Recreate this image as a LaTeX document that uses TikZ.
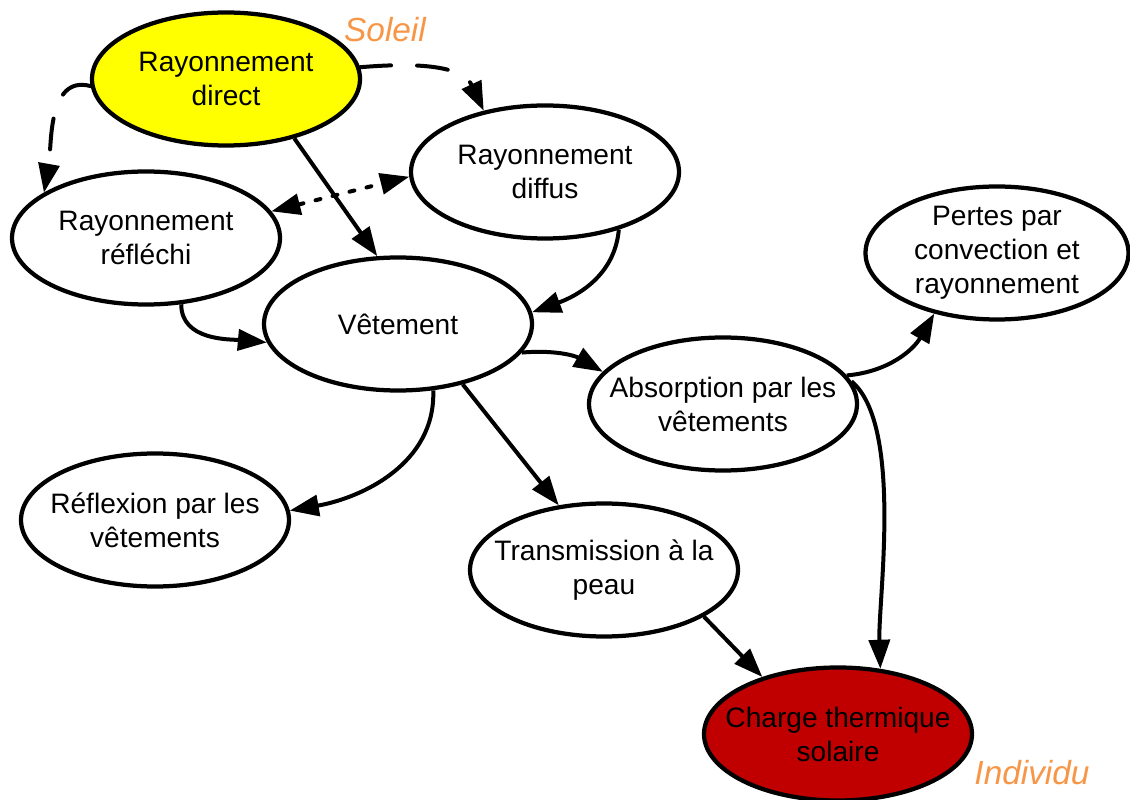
\documentclass[tikz,border=0pt]{standalone}
\usepackage{fontspec}
\setmainfont{Liberation Sans}
\usepackage{xcolor}
\usetikzlibrary{
    shapes.geometric,
    arrows.meta
}
\definecolor{sunyellow}{RGB}{255,255,0}
\definecolor{heatred}{RGB}{192,0,0}
\definecolor{tagorange}{RGB}{247,150,70}
\tikzset{
  bubble/.style = {
      draw,
      ellipse,
      line width=0.085cm,
      minimum width=5.36cm,
      minimum height=2.66cm,
      inner sep=0pt,
      fill=white
  },
  sun/.style = {
      bubble,
      fill=sunyellow
  },
  heat/.style = {
      bubble,
      fill=heatred
  },
  txt/.style = {
      label={[font=\fontsize{16}{19.3}\selectfont, align=center]center:#1}
  },
  flow/.style = {
      line width=0.08cm,
      -{Triangle[length=0.58cm, width=0.42cm]}
  },
  longdash/.style = {
      flow,
      line cap=round,
      dash pattern=on 0.62cm off 0.52cm
  },
  shortdash/.style = {
      flow,
      {Triangle[length=0.58cm, width=0.42cm]}-{Triangle[length=0.58cm, width=0.42cm]},
      line cap=round,
      dash pattern=on 0.1cm off 0.25cm
  },
  tag/.style = {
      font=\itshape\fontsize{19}{22}\selectfont,
      text=tagorange
  }
}

\begin{document}
\begin{tikzpicture}
        \useasboundingbox (0,0) rectangle (22.6,-16);
        % Sources
        \node[sun, txt={Rayonnement\\direct}] (direct) at (4.52,-1.58) {};
        \node[bubble, txt={Rayonnement\\diffus}] (diffus) at (10.9,-3.44) {};
        \node[bubble, txt={Rayonnement\\réfléchi}] (reflechi) at (2.92,-4.76) {};
        \node[bubble, txt={Vêtement}] (vetement) at (7.96,-6.48) {};
        % Effects
        \node[bubble, minimum width=5.26cm, txt={Pertes par\\convection et\\rayonnement}] (pertes) at (19.94,-5.06) {};
        \node[bubble, txt={Absorption par les\\vêtements}] (absorption) at (14.46,-8.08) {};
        \node[bubble, txt={Réflexion par les\\vêtements}] (reflexion) at (3.1,-10.4) {};
        \node[bubble, txt={Transmission à la\\peau}] (transmission) at (12.08,-11.4) {};
        \node[heat, txt={Charge thermique\\solaire}] (charge) at (16.76,-14.68) {};
        % Tags
        \node[tag] (soleil) at (7.7,-0.6) {Soleil};
        \node[tag] (individu) at (20.64,-15.46) {Individu};
        % Edges
        \draw[longdash] (direct.183) to[out=165, in=80] (reflechi.156);
        \draw[longdash] (direct.5) to[out=5, in=115] (diffus.135);
        \draw[shortdash] (reflechi.12) -- (diffus.182);
        \draw[flow] (direct.-41) -- (vetement.107);
        \draw[flow] (diffus.-38) to[out=-95, in=20] (vetement.5);
        \draw[flow] (reflechi.-62) to[out=-90, in=175] (vetement.188);
        \draw[flow] (vetement.-13) to[out=5, in=150] (absorption.165);
        \draw[flow] (vetement.-62) to[out=-88, in=10] (reflexion.4);
        \draw[flow] (vetement.-43) -- (transmission.125);
        \draw[flow] (absorption.13) to[out=5, in=240] (pertes.224);
        \draw[flow] (absorption.10) to[out=-40, in=92, looseness=0.6] (charge.57);
        \draw[flow] (transmission.-25) -- (charge.143);
    \end{tikzpicture}
\end{document}
